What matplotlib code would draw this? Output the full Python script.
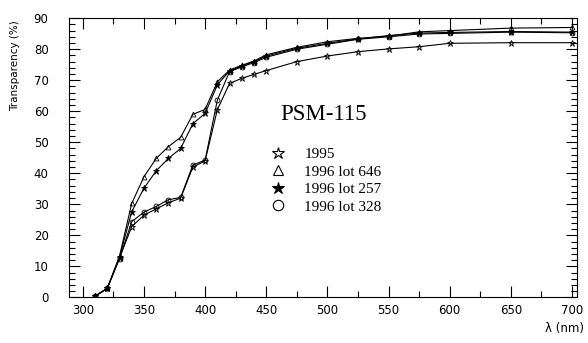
import numpy as np
import matplotlib.pyplot as plt
from matplotlib.lines import Line2D
from matplotlib.ticker import MultipleLocator

wl = [310, 320, 330, 340, 350, 360, 370, 380, 390, 400, 410, 420, 430, 440, 450,
      475, 500, 525, 550, 575, 600, 650, 700]

t1995 = [0.4, 2.9, 12.8, 22.8, 26.5, 28.5, 30.5, 32.0, 42.0, 44.0, 60.5, 69.0, 70.6,
         71.9, 73.1, 76.0, 77.8, 79.2, 80.1, 80.8, 81.9, 82.1, 82.1]
t646 = [0.4, 2.9, 13.3, 30.3, 38.9, 44.8, 48.6, 51.6, 59.0, 60.6, 69.5, 73.3, 74.8,
        76.2, 78.2, 80.6, 82.4, 83.5, 84.2, 85.6, 86.0, 86.8, 87.0]
t257 = [0.4, 2.9, 13.0, 27.6, 35.2, 40.8, 44.8, 48.0, 56.0, 59.3, 68.5, 73.0, 74.6,
        76.0, 77.8, 80.3, 81.9, 83.3, 84.4, 85.2, 85.4, 85.7, 85.5]
t328 = [0.4, 2.9, 12.5, 24.4, 27.5, 29.3, 31.5, 32.2, 42.7, 44.2, 63.6, 72.8, 74.3,
        75.7, 77.4, 80.0, 81.6, 83.2, 84.0, 84.9, 85.1, 85.5, 85.3]

labels = ['1995', '1996 lot 646', '1996 lot 257', '1996 lot 328']
markers = ['*', '^', '*', 'o']
fills = ['none', 'none', 'k', 'none']
series = [t1995, t646, t257, t328]

fig = plt.figure(figsize=(5.88, 3.43), dpi=100)
ax = fig.add_axes([0.118, 0.133, 0.863, 0.814])

for y, m, fc in zip(series, markers, fills):
    ax.plot(wl, y, color='k', lw=0.8, marker=m, markersize=3.5 if m != '*' else 4.5,
            markerfacecolor=fc, markeredgecolor='k', markeredgewidth=0.6)

ax.set_xlim(289, 704)
ax.set_ylim(0, 90)
ax.xaxis.set_major_locator(MultipleLocator(50))
ax.xaxis.set_minor_locator(MultipleLocator(25))
ax.yaxis.set_major_locator(MultipleLocator(10))
ax.yaxis.set_minor_locator(MultipleLocator(2))
ax.tick_params(which='both', direction='in', top=True, right=True, width=0.8,
               labelsize=8.5)
ax.tick_params(which='major', length=8)
ax.tick_params(which='minor', length=4)
ax.tick_params(axis='x', pad=5)
ax.tick_params(axis='y', pad=15)
for s in ax.spines.values():
    s.set_linewidth(0.8)

ax.text(-0.107, 0.83, 'Transparency (%)', transform=ax.transAxes, rotation=90,
        fontsize=7.5, ha='center', va='center')
ax.text(1.014, -0.11, 'λ (nm)', transform=ax.transAxes, fontsize=8.5,
        ha='right', va='center')

ax.text(497, 59.1, 'PSM-115', family='Liberation Serif', fontsize=16.5,
        ha='center', va='center')

handles = [Line2D([], [], ls='none', marker=m, markersize=9 if m == '*' else 7.5,
                  markerfacecolor=fc, markeredgecolor='k', markeredgewidth=0.8)
           for m, fc in zip(markers, fills)]
ax.legend(handles, labels, loc='upper left', bbox_to_anchor=(0.394, 0.537),
          frameon=False, prop={'family': 'Liberation Serif', 'size': 11},
          handletextpad=1.1, labelspacing=0.25, handlelength=1.2, borderpad=0,
          borderaxespad=0)

fig.savefig('out.png', dpi=100)
